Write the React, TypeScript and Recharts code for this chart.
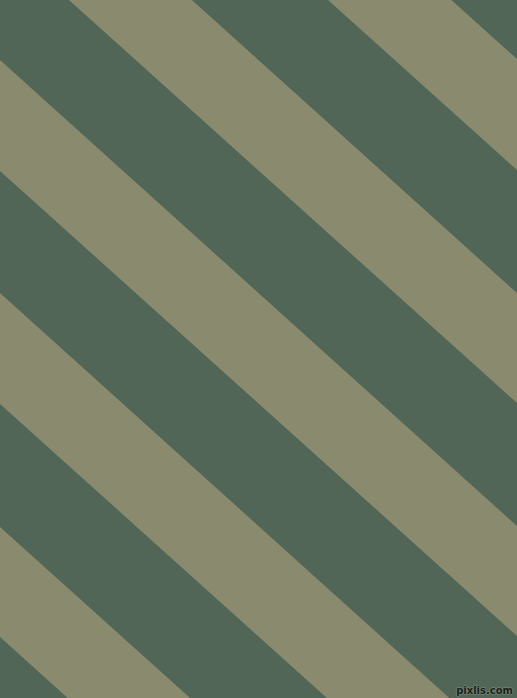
import { ComposedChart, Area, XAxis, YAxis } from 'recharts';

document.body.style.margin = '0';

// pixel rows where each khaki stripe meets the left (x=0) and right (x=517) edges
const edgeX = [0, 517];
const khakiLeftTop = [-406, -173, 60, 293, 527];
const khakiLeftBottom = [-295, -62, 171, 404, 637];
const khakiRightTop = [59, 293, 526, 759, 992];
const khakiRightBottom = [170, 403, 636, 869, 1103];

const colors = {
    dark: "#516656",
    khaki: "#898a6e"
};

const data = edgeX.map((x, i) => {
    const row: any = { x };
    khakiLeftTop.forEach((_, s) => {
        row[`s${s}`] = i === 0
            ? [khakiLeftTop[s], khakiLeftBottom[s]]
            : [khakiRightTop[s], khakiRightBottom[s]];
    });
    return row;
});

export default function App() {
    return (
        <div style={{ position: 'relative', width: 517, height: 698, background: colors.dark }}>
            <ComposedChart
                width={517}
                height={698}
                data={data}
                margin={{ top: 0, right: 0, left: 0, bottom: 0 }}
            >
                <XAxis dataKey="x" type="number" domain={[0, 517]} allowDataOverflow hide />
                <YAxis type="number" domain={[0, 698]} reversed allowDataOverflow hide />
                {khakiLeftTop.map((_, s) => (
                    <Area
                        key={s}
                        type="linear"
                        dataKey={`s${s}`}
                        stroke="none"
                        fill={colors.khaki}
                        fillOpacity={1}
                        isAnimationActive={false}
                        dot={false}
                        activeDot={false}
                    />
                ))}
            </ComposedChart>
            <div
                style={{
                    position: 'absolute',
                    right: 4,
                    bottom: 1,
                    fontFamily: 'DejaVu Sans, sans-serif',
                    fontSize: 10,
                    fontWeight: 'bold',
                    lineHeight: '12px',
                    color: '#1c241e',
                    textShadow: '1px 0 0 #6f7f72, -1px 0 0 #6f7f72, 0 1px 0 #6f7f72, 0 -1px 0 #6f7f72'
                }}
            >
                pixlis.com
            </div>
        </div>
    );
}
